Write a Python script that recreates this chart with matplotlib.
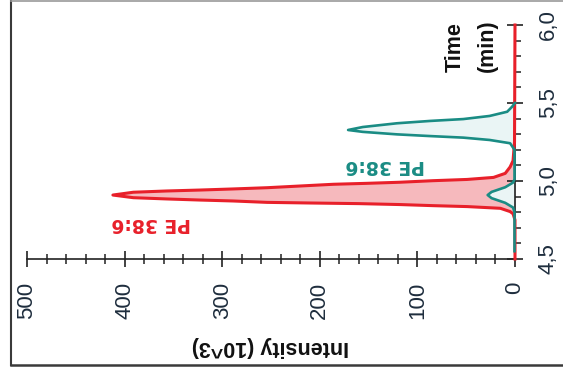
import matplotlib
matplotlib.use("Agg")
import matplotlib.pyplot as plt
from matplotlib.lines import Line2D
from matplotlib.ticker import MultipleLocator, FixedLocator, FixedFormatter

# ---- data ----
red_time = [4.50, 4.75, 4.79, 4.804, 4.825, 4.836, 4.842, 4.849, 4.855, 4.859,
            4.863, 4.872, 4.878, 4.885, 4.893, 4.910, 4.928, 4.936, 4.942, 4.949,
            4.957, 4.968, 4.979, 4.985, 4.992, 5.002, 5.010, 5.023, 5.049, 5.09,
            5.13, 5.25, 6.00]
red_int = [0, 0, 2, 5, 15, 49, 84, 118, 160, 210,
           254, 289, 323, 357, 391, 412, 391, 357, 323, 289,
           254, 220, 186, 152, 118, 84, 49, 22, 10, 5,
           2, 0.5, 0]

teal_time = [4.55, 4.80, 4.83, 4.86, 4.89, 4.91, 4.93, 4.96, 4.99, 5.01,
             5.20, 5.242, 5.263, 5.278, 5.288, 5.299, 5.315, 5.327, 5.346, 5.370,
             5.385, 5.397, 5.417, 5.444, 5.476, 5.50]
teal_int = [0.5, 0.5, 2, 10, 24, 28, 24, 10, 2, 0.5,
            0.5, 5, 26, 53, 87, 121, 156, 171, 156, 121,
            87, 53, 26, 8, 3, 0]

int_ticks = [0, 100, 200, 300, 400, 500]
time_ticks = [4.5, 5.0, 5.5, 6.0]
time_labels = ["4,5", "5,0", "5,5", "6,0"]
red_label = "PE 38:6"
teal_label = "PE 38:6"
int_title = "Intensity (10^3)"
time_title = ["Time", "(min)"]

RED = "#e8202a"
RED_FILL = "#f6b9bd"
TEAL = "#1a8c84"
TEAL_FILL = "#eaf5f5"
TICKC = "#1e2d3d"

W, H = 563, 374
fig = plt.figure(figsize=(W / 100, H / 100), dpi=100)
ax = fig.add_axes([27 / W, 1 - 259 / H, (515 - 27) / W, (259 - 25) / H])

ax.fill_betweenx(red_time, 0, red_int, color=RED_FILL, lw=0, zorder=1)
ax.fill_betweenx(teal_time, 0, teal_int, color=TEAL_FILL, lw=0, zorder=1.1)
ax.plot(red_int, red_time, color=RED, lw=2.2, zorder=3, clip_on=False,
        solid_joinstyle="round")
ax.plot(teal_int, teal_time, color=TEAL, lw=1.9, zorder=3.1, clip_on=False,
        solid_joinstyle="round")

ax.set_xlim(500, 0)
ax.set_ylim(4.5, 6.0)

for s in ["top", "left"]:
    ax.spines[s].set_visible(False)
for s in ["bottom", "right"]:
    ax.spines[s].set_linewidth(1.2)
    ax.spines[s].set_color("#222222")

ax.yaxis.tick_right()
ax.xaxis.set_major_locator(FixedLocator(int_ticks))
ax.xaxis.set_minor_locator(MultipleLocator(20))
ax.yaxis.set_major_locator(FixedLocator(time_ticks))
ax.yaxis.set_major_formatter(FixedFormatter(time_labels))
ax.yaxis.set_minor_locator(MultipleLocator(0.1))

ax.tick_params(axis="x", which="major", direction="inout", length=11.5, width=1.2,
               color="#222222", pad=10.8, labelsize=16, labelcolor=TICKC)
ax.tick_params(axis="x", which="minor", direction="inout", length=6.5, width=1.1,
               color="#222222")
ax.tick_params(axis="y", which="major", direction="inout", length=11.5, width=1.2,
               color="#222222", pad=10.8, labelsize=16, labelcolor=TICKC,
               right=True, left=False)
ax.tick_params(axis="y", which="minor", direction="out", length=4.3, width=1.1,
               color="#222222", right=True, left=False)

for lab in ax.get_xticklabels():
    lab.set_rotation(90)
    lab.set_family("Liberation Sans")
    lab.set_va("top")
    lab.set_ha("center")
for lab in ax.get_yticklabels():
    lab.set_rotation(90)
    lab.set_family("Liberation Sans")
    lab.set_va("center")
    lab.set_ha("left")

def fx(px):
    return px / W

def fy(py):
    return 1 - py / H

fig.text(fx(270), fy(347), int_title, rotation=180, ha="center", va="center",
         fontsize=15.5, fontweight="bold", family="Liberation Sans", color="#111111")
fig.text(fx(455), fy(47), time_title[0], rotation=90, ha="center", va="center",
         fontsize=15.5, fontweight="bold", family="Liberation Sans", color="#111111")
fig.text(fx(487), fy(46), time_title[1], rotation=90, ha="center", va="center",
         fontsize=15.5, fontweight="bold", family="Liberation Sans", color="#111111")
fig.text(fx(151), fy(224), red_label, rotation=180, ha="center", va="center",
         fontsize=13.5, fontweight="bold", family="DejaVu Sans", color=RED)
fig.text(fx(385), fy(166), teal_label, rotation=180, ha="center", va="center",
         fontsize=13.5, fontweight="bold", family="DejaVu Sans", color=TEAL)

# frame around the figure
frame_c = "#3a3a3a"
fig.add_artist(Line2D([fx(11), fx(11)], [fy(1), fy(365)], color=frame_c, lw=1.5))
fig.add_artist(Line2D([fx(11), 1.0], [fy(365), fy(365)], color=frame_c, lw=1.8))
fig.add_artist(Line2D([fx(11), 1.0], [fy(0.8), fy(0.8)], color="#9a9a9a", lw=1.2))

fig.savefig("out.png", dpi=100)
